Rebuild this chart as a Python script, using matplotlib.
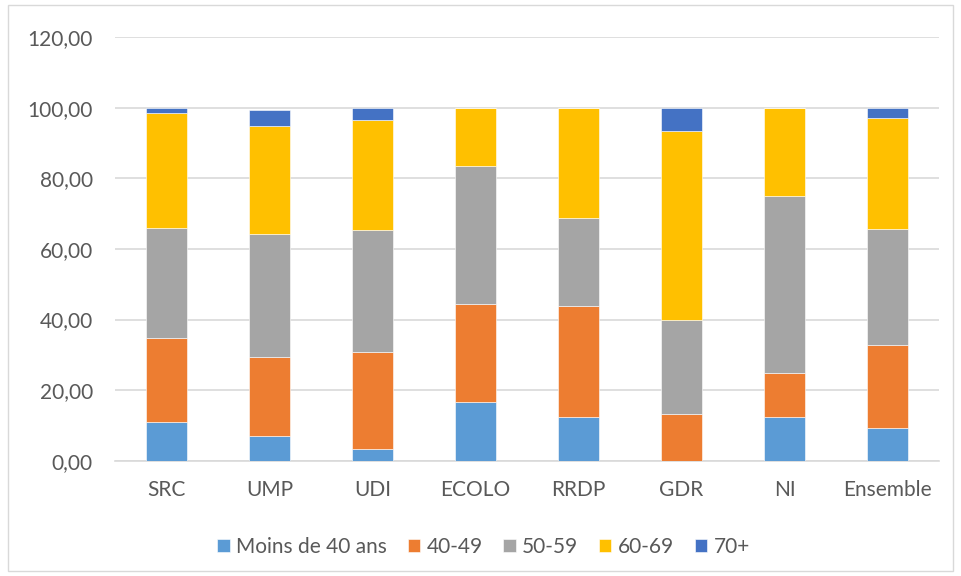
import numpy as np
import matplotlib.pyplot as plt
from matplotlib.patches import Rectangle

groups = ["SRC", "UMP", "UDI", "ECOLO", "RRDP", "GDR", "NI", "Ensemble"]
age_labels = ["Moins de 40 ans", "40-49", "50-59", "60-69", "70+"]

moins40 = [10.9, 7.0, 3.3, 16.67, 12.5, 0.0, 12.5, 9.2]
a40_49 = [23.8, 22.3, 27.6, 27.78, 31.25, 13.33, 12.5, 23.5]
a50_59 = [31.1, 34.9, 34.4, 38.89, 25.0, 26.67, 50.0, 32.8]
a60_69 = [32.8, 30.6, 31.2, 16.67, 31.25, 53.33, 25.0, 31.7]
a70 = [1.4, 4.5, 3.5, 0.0, 0.0, 6.67, 0.0, 2.8]

colors = ["#5B9BD5", "#ED7D31", "#A5A5A5", "#FFC000", "#4472C4"]
series = [moins40, a40_49, a50_59, a60_69, a70]

plt.rcParams["font.family"] = ["Lato", "DejaVu Sans"]

fig = plt.figure(figsize=(9.61, 5.76), dpi=100)
ax = fig.add_axes([0.1197, 0.2, 0.8574, 0.7358])

x = np.arange(len(groups))
bottom = np.zeros(len(groups))
for vals, col, lab in zip(series, colors, age_labels):
    ax.bar(x, vals, width=0.4, bottom=bottom, color=col, label=lab,
           edgecolor="white", linewidth=0.4, zorder=3)
    bottom += np.array(vals)

ax.set_xlim(-0.5, len(groups) - 0.5)
ax.set_ylim(0, 120)
ax.set_yticks(np.arange(0, 121, 20))
ax.set_yticklabels([f"{v:.2f}".replace(".", ",") for v in range(0, 121, 20)])
ax.set_xticks(x)
ax.set_xticklabels(groups)
ax.tick_params(axis="both", length=0, labelsize=15, colors="#595959")
ax.tick_params(axis="x", pad=14)
ax.tick_params(axis="y", pad=16)
ax.grid(axis="y", color="#D9D9D9", linewidth=1.2, zorder=0)
for s in ["top", "right", "left"]:
    ax.spines[s].set_visible(False)
ax.spines["bottom"].set_color("#D9D9D9")
ax.spines["bottom"].set_linewidth(1.2)

fig.legend(loc="center", bbox_to_anchor=(0.503, 0.05), ncol=5, frameon=False,
           fontsize=15, labelcolor="#595959", handlelength=0.6,
           handleheight=0.6, handletextpad=0.3, columnspacing=1.0)

fig.patches.append(Rectangle((0.008, 0.008), 0.984, 0.984, transform=fig.transFigure,
                             fill=False, edgecolor="#D9D9D9", linewidth=1))

fig.savefig("out.png", dpi=100)
